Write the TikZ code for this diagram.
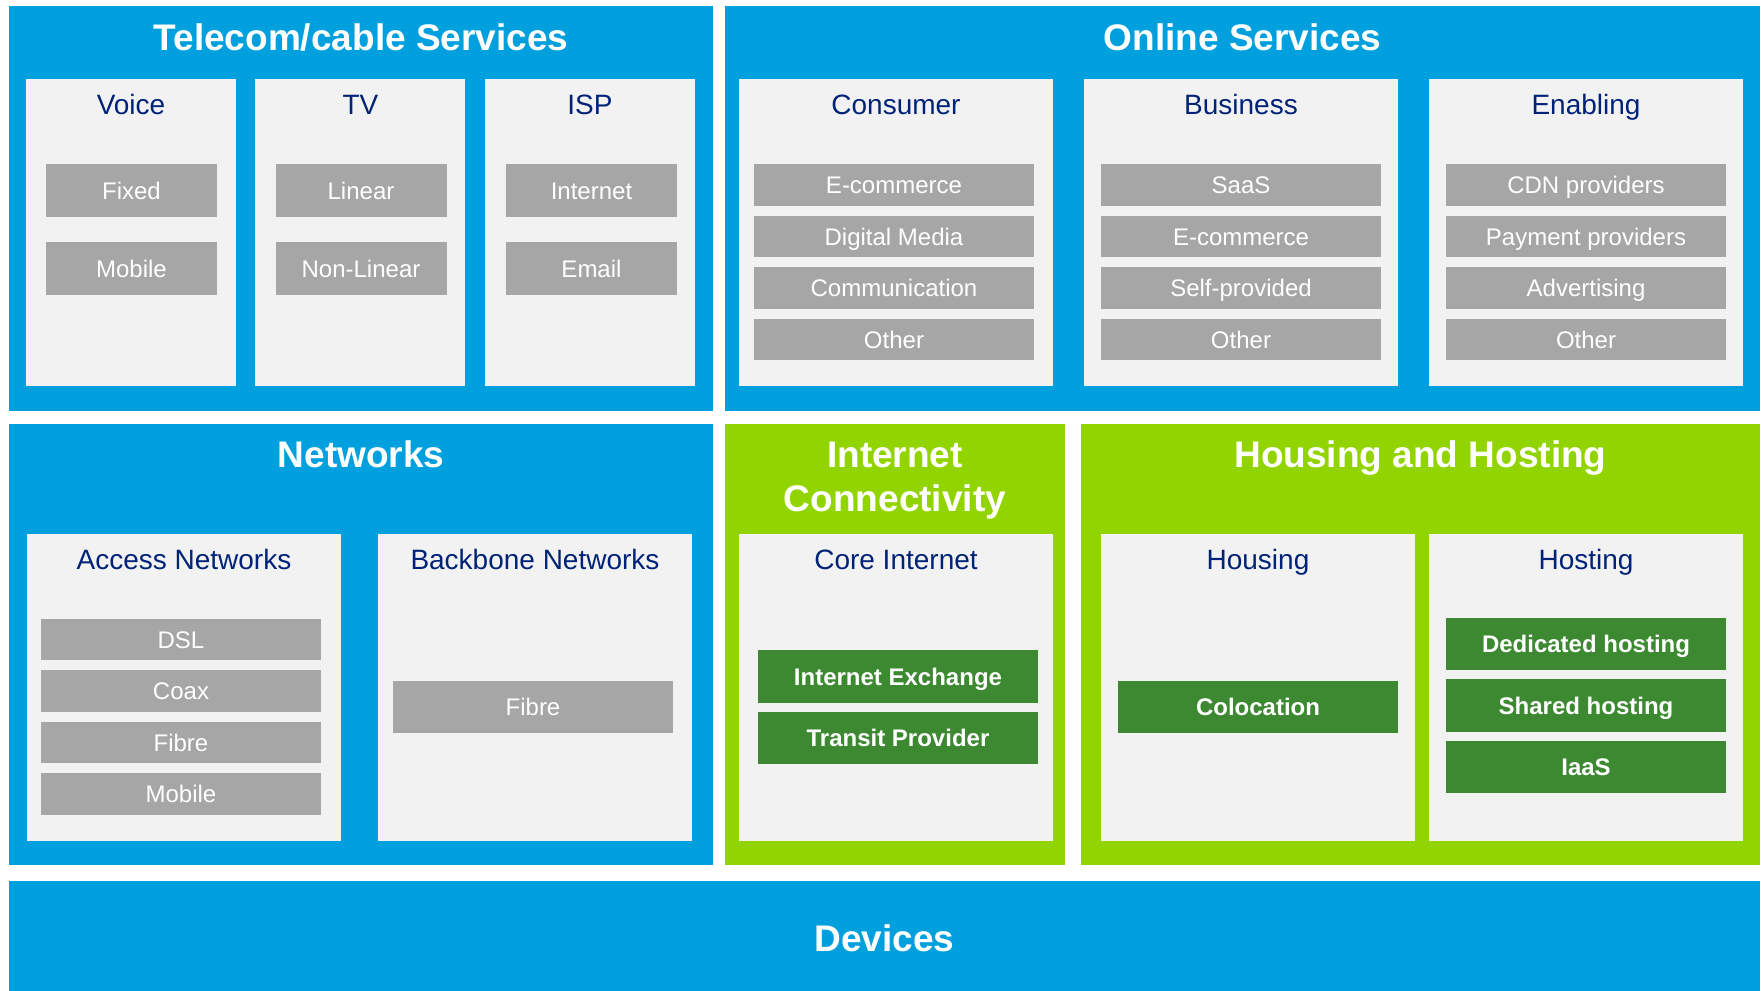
\documentclass[tikz,border=0pt]{standalone}
\usepackage{fontspec}
\setmainfont{Liberation Sans}
\definecolor{boxblue}{RGB}{0,160,223}
\definecolor{boxgreen}{RGB}{146,212,0}
\definecolor{itemgreen}{RGB}{61,137,50}
\definecolor{itemgray}{RGB}{166,166,166}
\definecolor{panelgray}{RGB}{242,242,242}
\definecolor{headnavy}{RGB}{0,35,120}

\begin{document}
\begin{tikzpicture}[x=0.5pt, y=-0.5pt,
    area/.style={rectangle, inner sep=0pt, anchor=north west},
    panel/.style={rectangle, fill=panelgray, inner sep=0pt, anchor=north west, minimum width=157pt, minimum height=153.5pt},
    areatitle/.style={anchor=base, text=white, align=center, font=\bfseries\fontsize{18.5}{22.25}\selectfont},
    paneltitle/.style={anchor=base, text=headnavy, font=\fontsize{14}{17}\selectfont},
    item/.style={rectangle, fill=itemgray, text=white, inner sep=0pt, text height=8.6pt, text depth=0pt, minimum width=140pt, minimum height=20.75pt, font=\fontsize{12}{14}\selectfont},
    gitem/.style={item, fill=itemgreen, minimum height=26.25pt, font=\bfseries\fontsize{12}{14}\selectfont}]
        \useasboundingbox (0,0) rectangle (1763,991);

        % telecom/cable services
        \node[area, fill=boxblue, minimum width=352pt, minimum height=202.5pt] (telecom) at (9,6) {};
        \node[areatitle] (telecomtitle) at (361,50) {Telecom/cable Services};
        \node[panel, minimum width=105pt] (voice) at (26,79) {};
        \node[panel, minimum width=105pt] (tv) at (255,79) {};
        \node[panel, minimum width=105pt] (isp) at (485,79) {};
        \node[paneltitle] (voicetitle) at (131,114) {Voice};
        \node[paneltitle] (tvtitle) at (360.5,114) {TV};
        \node[paneltitle] (isptitle) at (590,114) {ISP};
        \node[item, minimum width=85.5pt, minimum height=26.5pt] (fixed) at (131.5,190.5) {Fixed};
        \node[item, minimum width=85.5pt, minimum height=26.5pt, below of=fixed, node distance=39pt] (vmobile) {Mobile};
        \node[item, minimum width=85.5pt, minimum height=26.5pt] (linear) at (361,190.5) {Linear};
        \node[item, minimum width=85.5pt, minimum height=26.5pt, below of=linear, node distance=39pt] (nonlinear) {Non-Linear};
        \node[item, minimum width=85.5pt, minimum height=26.5pt] (internet) at (591.5,190.5) {Internet};
        \node[item, minimum width=85.5pt, minimum height=26.5pt, below of=internet, node distance=39pt] (email) {Email};

        % online services
        \node[area, fill=boxblue, minimum width=517.5pt, minimum height=202.5pt] (online) at (725,6) {};
        \node[areatitle] (onlinetitle) at (1242.5,50) {Online Services};
        \node[panel] (consumer) at (739,79) {};
        \node[panel] (business) at (1084,79) {};
        \node[panel] (enabling) at (1429,79) {};
        \node[paneltitle] (consumertitle) at (896,114) {Consumer};
        \node[paneltitle] (businesstitle) at (1241,114) {Business};
        \node[paneltitle] (enablingtitle) at (1586,114) {Enabling};

        \node[item] (cecom) at (894,185) {E-commerce};
        \node[item, below of=cecom, node distance=25.75pt] (cmedia) {Digital Media};
        \node[item, below of=cmedia, node distance=25.75pt] (ccomm) {Communication};
        \node[item, below of=ccomm, node distance=25.75pt] (cother) {Other};

        \node[item] (bsaas) at (1241,185) {SaaS};
        \node[item, below of=bsaas, node distance=25.75pt] (becom) {E-commerce};
        \node[item, below of=becom, node distance=25.75pt] (bself) {Self-provided};
        \node[item, below of=bself, node distance=25.75pt] (bother) {Other};

        \node[item] (ecdn) at (1586,185) {CDN providers};
        \node[item, below of=ecdn, node distance=25.75pt] (epay) {Payment providers};
        \node[item, below of=epay, node distance=25.75pt] (eadv) {Advertising};
        \node[item, below of=eadv, node distance=25.75pt] (eother) {Other};

        % networks
        \node[area, fill=boxblue, minimum width=352pt, minimum height=220.5pt] (networks) at (9,424) {};
        \node[areatitle] (networkstitle) at (361,467) {Networks};
        \node[panel] (access) at (27,534) {};
        \node[panel] (backbone) at (378,534) {};
        \node[paneltitle] (accesstitle) at (184,569) {Access Networks};
        \node[paneltitle] (backbonetitle) at (535,569) {Backbone Networks};
        \node[item] (dsl) at (181,639.5) {DSL};
        \node[item, below of=dsl, node distance=25.75pt] (coax) {Coax};
        \node[item, below of=coax, node distance=25.75pt] (afibre) {Fibre};
        \node[item, below of=afibre, node distance=25.75pt] (amobile) {Mobile};
        \node[item, minimum height=26.25pt] (bfibre) at (533,707) {Fibre};

        % internet connectivity
        \node[area, fill=boxgreen, minimum width=170pt, minimum height=220.5pt] (connect) at (725,424) {};
        \node[areatitle] (connecttitle) at (895,511.5) {Internet\\Connectivity};
        \node[panel] (core) at (739,534) {};
        \node[paneltitle] (coretitle) at (896,569) {Core Internet};
        \node[gitem] (ix) at (898,676.5) {Internet Exchange};
        \node[gitem, below of=ix, node distance=30.75pt] (transit) {Transit Provider};

        % housing and hosting
        \node[area, fill=boxgreen, minimum width=339.5pt, minimum height=220.5pt] (hh) at (1081,424) {};
        \node[areatitle] (hhtitle) at (1420.5,467) {Housing and Hosting};
        \node[panel] (housing) at (1101,534) {};
        \node[panel] (hosting) at (1429,534) {};
        \node[paneltitle] (housingtitle) at (1258,569) {Housing};
        \node[paneltitle] (hostingtitle) at (1586,569) {Hosting};
        \node[gitem] (coloc) at (1258,707) {Colocation};
        \node[gitem] (dedicated) at (1586,644) {Dedicated hosting};
        \node[gitem, below of=dedicated, node distance=30.75pt] (shared) {Shared hosting};
        \node[gitem, below of=shared, node distance=30.75pt] (iaas) {IaaS};

        % devices
        \node[area, fill=boxblue, minimum width=875.5pt, minimum height=55pt] (devices) at (9,881) {};
        \node[areatitle] (devicestitle) at (884.5,951) {Devices};
    \end{tikzpicture}
\end{document}
